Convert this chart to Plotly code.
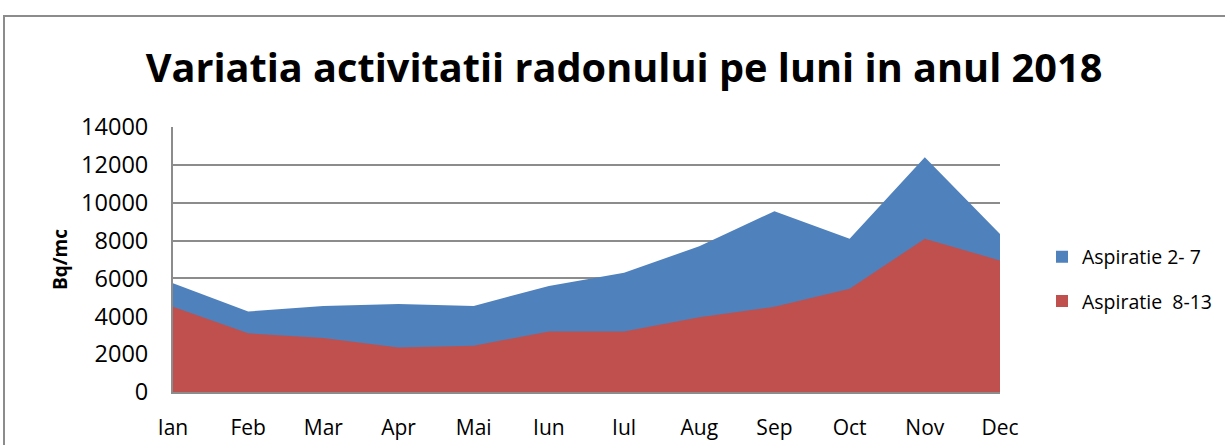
import plotly.graph_objects as go

months = ["Ian", "Feb", "Mar", "Apr", "Mai", "Iun", "Iul", "Aug", "Sep", "Oct", "Nov", "Dec"]
asp_2_7 = [5750, 4250, 4550, 4650, 4550, 5600, 6300, 7700, 9550, 8100, 12400, 8350]
asp_8_13 = [4500, 3100, 2850, 2350, 2450, 3200, 3200, 3950, 4500, 5450, 8100, 6950]
name_2_7 = "Aspiratie 2- 7"
name_8_13 = "Aspiratie\u00a0 8-13"
y_ticks = [0, 2000, 4000, 6000, 8000, 10000, 12000, 14000]
y_ticktext = ["0", "2000", "4000", "6000", "8000", "10000", "12000", "14000"]

FONT = "Open Sans"
BLUE = "#4F81BD"
RED = "#C0504D"
GRID = "#8C8C8C"

fig = go.Figure()
fig.add_trace(go.Scatter(x=months, y=asp_2_7, name=name_2_7, mode="lines",
                         line=dict(width=0, color=BLUE), fill="tozeroy",
                         fillcolor=BLUE, showlegend=False, hoverinfo="x+y+name"))
fig.add_trace(go.Scatter(x=months, y=asp_8_13, name=name_8_13, mode="lines",
                         line=dict(width=0, color=RED), fill="tozeroy",
                         fillcolor=RED, showlegend=False, hoverinfo="x+y+name"))
# legend entries (square swatches)
for nm, col, grp in [(name_2_7, BLUE, "a"), (name_8_13, RED, "b")]:
    fig.add_trace(go.Scatter(x=[None], y=[None], name=nm, mode="markers",
                             marker=dict(symbol="square", size=12, color=col),
                             legendgroup=grp, showlegend=True))

L, R, T, B = 173, 1000, 127, 392
W, H = 1225, 445
pw, ph = R - L, B - T

def px_x(x):
    return (x - L) / pw

def px_y(y):
    return (B - y) / ph

fig.update_layout(
    width=W, height=H,
    margin=dict(l=L, r=W - R, t=T, b=H - B, autoexpand=False),
    paper_bgcolor="white", plot_bgcolor="white",
    font=dict(family=FONT, color="black"),
    title=dict(text="<b>Variatia activitatii radonului pe luni in anul 2018</b>",
               x=px_x(624), xref="paper", xanchor="center",
               y=1 - 68 / H, yref="container", yanchor="middle",
               font=dict(size=39.7, family=FONT, color="black")),
    showlegend=True,
    legend=dict(x=px_x(1042), xanchor="left", y=px_y(279), yanchor="middle",
                font=dict(size=19.5, family=FONT), tracegroupgap=16,
                itemwidth=30, bgcolor="rgba(0,0,0,0)"),
    xaxis=dict(type="category", range=[0, 11], showgrid=False,
               showline=True, linecolor=GRID, linewidth=2,
               ticks="", tickfont=dict(size=21, family=FONT),
               ticklabelstandoff=16, zeroline=False, automargin=False),
    yaxis=dict(range=[0, 14000], tickvals=y_ticks, ticktext=y_ticktext,
               showgrid=True, gridcolor=GRID, gridwidth=1.5,
               showline=True, linecolor=GRID, linewidth=2,
               ticks="", tickfont=dict(size=23.5, family=FONT),
               ticklabelstandoff=18, zeroline=False, automargin=False,
               title=dict(text="<b>Bq/mc</b>", font=dict(size=19, family=FONT),
                          standoff=8)),
)

# outer chart frame
fig.add_shape(type="rect", xref="paper", yref="paper",
              x0=px_x(4), x1=px_x(1240), y0=px_y(460), y1=px_y(16),
              line=dict(color=GRID, width=2), fillcolor="rgba(0,0,0,0)",
              layer="below")

fig.write_html("out.html", config={"displayModeBar": False},
               post_script="document.body.style.margin='0';")
